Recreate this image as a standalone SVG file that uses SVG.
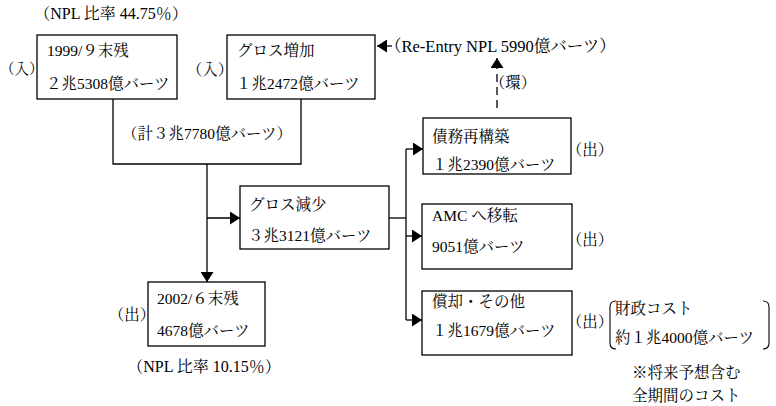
<svg xmlns="http://www.w3.org/2000/svg" width="776" height="406" viewBox="0 0 776 406">
<style>
text{font-family:"Liberation Serif","Noto Serif CJK JP","Noto Sans CJK JP",serif;font-size:15.5px;fill:#000}
.m{text-anchor:middle}
.box{fill:#fff;stroke:#000;stroke-width:1.3}
.ln{fill:none;stroke:#000;stroke-width:1.3}
.dash{fill:none;stroke:#000;stroke-width:1.3;stroke-dasharray:8 5}
</style>
<defs>
<marker id="ah" markerUnits="userSpaceOnUse" markerWidth="10" markerHeight="13" refX="10" refY="6.5" orient="auto">
<path d="M0,0 L10,6.5 L0,13 Z" fill="#000"/>
</marker>
</defs>

<g id="connectors">
<path class="ln" d="M113,99 V164 H301 V99"/>
<path class="ln" d="M207,164 V282" marker-end="url(#ah)"/>
<path class="ln" d="M207,218 H240" marker-end="url(#ah)"/>
<path class="ln" d="M389,218 H406"/>
<path class="ln" d="M406,149 V320"/>
<path class="ln" d="M406,149 H423" marker-end="url(#ah)"/>
<path class="ln" d="M406,236 H422" marker-end="url(#ah)"/>
<path class="ln" d="M406,320 H422" marker-end="url(#ah)"/>
<path class="ln" d="M392,46 H377" marker-end="url(#ah)"/>
<path class="dash" d="M497,108 V66"/>
<path class="ln" d="M497,67 V58" marker-end="url(#ah)"/>
</g>

<g id="npl-start-ratio"><text class="m" x="111" y="19" style="font-size:16px">（NPL 比率 44.75％）</text></g>

<g id="node-1999">
<rect class="box" x="37" y="35" width="140" height="64"/>
<text x="47" y="56">1999/９末残</text>
<text x="46" y="89">２兆5308億バーツ</text>
<text x="0" y="74" style="font-size:14.5px">（入）</text>
</g>

<g id="node-gross-increase">
<rect class="box" x="227" y="35" width="148" height="64"/>
<text x="237" y="56">グロス増加</text>
<text x="236" y="89">１兆2472億バーツ</text>
<text class="m" x="210" y="75">（入）</text>
</g>

<g id="total-label"><text class="m" x="207" y="139">（計３兆7780億バーツ）</text></g>

<g id="reentry"><text x="385" y="52" style="font-size:16.5px">（Re-Entry NPL 5990億バーツ）</text>
<text class="m" x="513" y="88">（環）</text></g>

<g id="node-gross-decrease">
<rect class="box" x="240" y="186" width="149" height="63"/>
<text x="249" y="210">グロス減少</text>
<text x="248" y="241">３兆3121億バーツ</text>
</g>

<g id="node-2002">
<rect class="box" x="148" y="282" width="117" height="64"/>
<text x="157" y="304">2002/６末残</text>
<text x="157" y="336">4678億バーツ</text>
<text class="m" x="132" y="320">（出）</text>
<text class="m" x="204" y="372" style="font-size:16px">（NPL 比率 10.15％）</text>
</g>

<g id="node-restructure">
<rect class="box" x="423" y="118" width="148" height="56"/>
<text x="432" y="142">債務再構築</text>
<text x="432" y="170">１兆2390億バーツ</text>
<text class="m" x="590" y="155">（出）</text>
</g>

<g id="node-amc">
<rect class="box" x="422" y="204" width="150" height="65"/>
<text x="432" y="221">AMC へ移転</text>
<text x="432" y="252">9051億バーツ</text>
<text class="m" x="590" y="245">（出）</text>
</g>

<g id="node-writeoff">
<rect class="box" x="422" y="291" width="150" height="64"/>
<text x="432" y="307">償却・その他</text>
<text x="432" y="336">１兆1679億バーツ</text>
<text class="m" x="590" y="327">（出）</text>
</g>

<g id="fiscal-cost">
<path class="ln" d="M616,301 Q610,301 610,307 V343 Q610,349 616,349" style="stroke-width:1.1"/>
<path class="ln" d="M763,301 Q769,301 769,307 V343 Q769,349 763,349" style="stroke-width:1.1"/>
<text x="615" y="314">財政コスト</text>
<text x="615" y="343">約１兆4000億バーツ</text>
<text x="632" y="378">※将来予想含む</text>
<text x="632" y="401">全期間のコスト</text>
</g>
</svg>
